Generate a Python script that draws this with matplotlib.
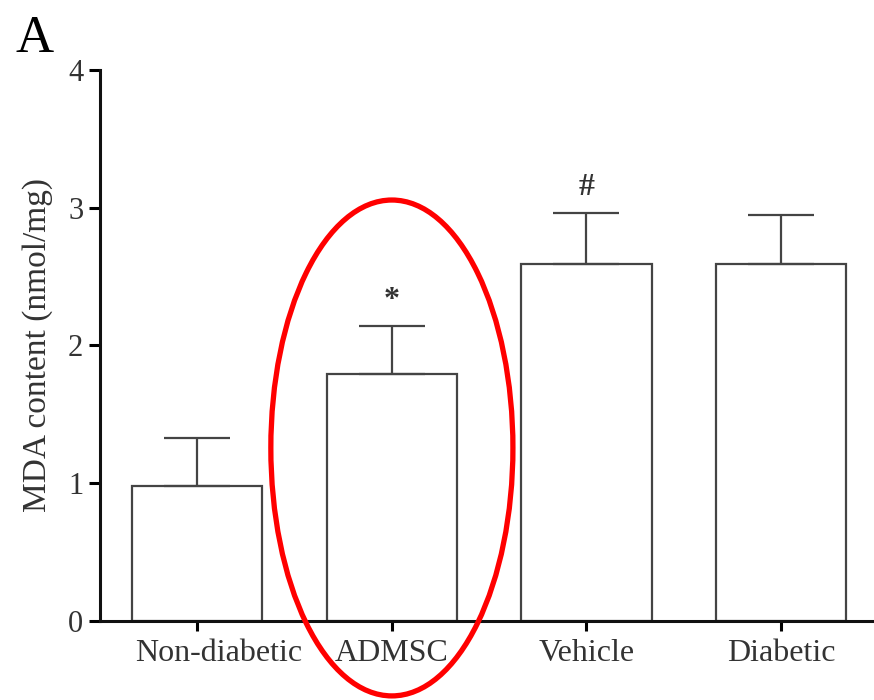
import matplotlib
matplotlib.use("Agg")
import matplotlib.pyplot as plt
import matplotlib.transforms as mtransforms
from matplotlib.patches import Ellipse

# data
groups = ["Non-diabetic", "ADMSC", "Vehicle", "Diabetic"]
mda = [0.98, 1.79, 2.59, 2.59]
sem = [0.35, 0.35, 0.37, 0.36]
marks = ["", "*", "#", ""]

plt.rcParams["font.family"] = ["Liberation Serif", "DejaVu Serif"]

fig = plt.figure(figsize=(8.74, 7.0), dpi=100)
ax = fig.add_axes([0.1144, 0.1129, 0.8906, 0.7871])

x = list(range(len(groups)))
ax.bar(x, mda, width=0.67, color="white", edgecolor="#444444", linewidth=1.6,
       yerr=[[0] * len(sem), sem], capsize=24,
       error_kw=dict(ecolor="#444444", elinewidth=1.6, capthick=1.6),
       zorder=2)

for xi, m, s, lab in zip(x, mda, sem, marks):
    if lab:
        ax.text(xi, m + s + 0.08, lab, ha="center", va="bottom",
                fontsize=23, fontweight="bold", color="#333333")

ax.set_xlim(-0.5, 3.5)
ax.set_ylim(0, 4)
ax.set_yticks([0, 1, 2, 3, 4])
ax.set_xticks(x)
ax.set_xticklabels(groups)

for side in ["top", "right"]:
    ax.spines[side].set_visible(False)
for side in ["left", "bottom"]:
    ax.spines[side].set_linewidth(2.2)
    ax.spines[side].set_color("#111111")

ax.tick_params(axis="y", length=8, width=2.2, pad=4, labelsize=22,
               labelcolor="#333333")
ax.tick_params(axis="x", length=7, width=2.2, pad=6, labelsize=23,
               labelcolor="#333333")

# first category label sits a little right of its tick in the original
lbl0 = ax.get_xticklabels()[0]
lbl0.set_transform(lbl0.get_transform() +
                   mtransforms.ScaledTranslation(0.21, 0, fig.dpi_scale_trans))

ax.set_ylabel("MDA content (nmol/mg)", fontsize=24, color="#333333")
ax.yaxis.set_label_coords(-0.060, 0.5)

# red highlight around the ADMSC group
ax.add_patch(Ellipse((1.0, 1.256), 1.244, 3.60, fill=False, edgecolor="#ff0000",
                     linewidth=3.8, clip_on=False, zorder=5))

fig.text(0.04, 0.945, "A", fontsize=38, ha="center", va="center")

fig.savefig("out.png", dpi=100)
